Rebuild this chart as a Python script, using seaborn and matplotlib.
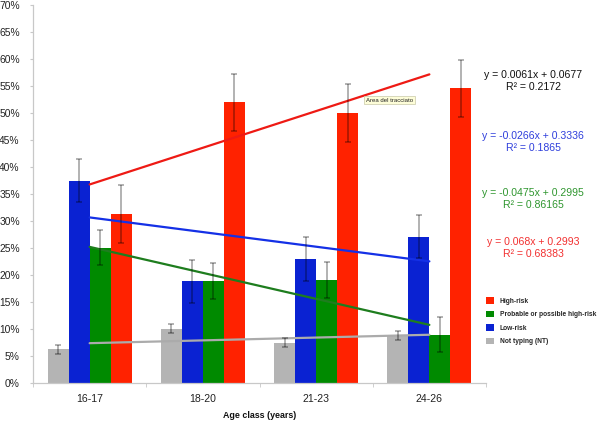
import matplotlib
matplotlib.use("Agg")
import matplotlib.pyplot as plt
from matplotlib.patches import Patch
from matplotlib.ticker import MultipleLocator, PercentFormatter
import numpy as np
import pandas as pd
import seaborn as sns

# --------------------------------------------------------------------------
# Data (percent)
# --------------------------------------------------------------------------
age_classes = ["16-17", "18-20", "21-23", "24-26"]
groups = ["Not typing (NT)", "Low-risk", "Probable or possible high-risk", "High-risk"]

not_typing = [6.3, 10.1, 7.5, 8.9]
low_risk = [37.5, 18.9, 23.0, 27.1]
probable_high = [25.1, 18.9, 19.1, 9.0]
high_risk = [31.3, 52.0, 50.0, 54.6]

not_typing_err = [0.85, 0.85, 0.85, 0.85]
low_risk_err = [4.0, 4.0, 4.0, 4.0]
probable_high_err = [3.3, 3.35, 3.35, 3.3]
high_risk_err = [5.4, 5.25, 5.3, 5.3]

# trend line equations as printed on the chart
equations = [
    "y = 0.0061x + 0.0677\nR\u00b2 = 0.2172",
    "y = -0.0266x + 0.3336\nR\u00b2 = 0.1865",
    "y = -0.0475x + 0.2995\nR\u00b2 = 0.86165",
    "y = 0.068x + 0.2993\nR\u00b2 = 0.68383",
]

bar_colors = ["#b4b4b4", "#0a22d2", "#008a00", "#ff2200"]
line_colors = ["#ababab", "#1430e6", "#1e7d1e", "#ee1a14"]
eq_colors = ["#111111", "#2f3fdc", "#2f962f", "#f23030"]

values = [not_typing, low_risk, probable_high, high_risk]
errors = [not_typing_err, low_risk_err, probable_high_err, high_risk_err]

df = pd.DataFrame({
    "age": age_classes * len(groups),
    "group": np.repeat(groups, len(age_classes)),
    "value": np.concatenate(values),
})

# --------------------------------------------------------------------------
# Plot
# --------------------------------------------------------------------------
sns.set_style("white")
plt.rcParams["font.family"] = ["Liberation Sans", "DejaVu Sans"]

fig = plt.figure(figsize=(6, 4.23), dpi=100)
ax = fig.add_axes([0.055, 0.0939, 0.755, 0.8943])

sns.barplot(
    data=df, x="age", y="value", hue="group",
    order=age_classes, hue_order=groups,
    palette=bar_colors, width=0.74, linewidth=0,
    saturation=1, errorbar=None, legend=False, ax=ax,
)

# error bars on each patch
for i, errs in enumerate(errors):
    for j, err in enumerate(errs):
        p = ax.patches[i * len(age_classes) + j]
        ax.errorbar(
            p.get_x() + p.get_width() / 2, p.get_height(), yerr=err,
            fmt="none", ecolor=(0, 0, 0, 0.38), elinewidth=1.1,
            capsize=2.2, capthick=1.1, zorder=4,
        )

# linear trend lines across the age classes
xpos = np.arange(len(age_classes))
for vals, col in zip(values, line_colors):
    sns.regplot(
        x=xpos, y=np.array(vals), ci=None, scatter=False, truncate=True,
        line_kws={"color": col, "lw": 1.6, "zorder": 3}, ax=ax,
    )

ax.set_xlim(-0.5, 3.5)
ax.set_ylim(0, 70)
ax.yaxis.set_major_locator(MultipleLocator(5))
ax.yaxis.set_major_formatter(PercentFormatter(decimals=0))
ax.set_xticks(xpos)
ax.set_xticklabels(age_classes)
ax.set_xticks([-0.5, 0.5, 1.5, 2.5, 3.5], minor=True)
ax.tick_params(axis="x", which="major", length=0, pad=8, labelsize=7.6, colors="#222222")
ax.tick_params(axis="x", which="minor", length=3, color="#c8c8c8", direction="out", bottom=True)
ax.tick_params(axis="y", length=2.5, color="#c8c8c8", direction="out", left=True,
               pad=7, labelsize=7.4, labelcolor="#222222")

ax.set_ylabel("")
ax.set_xlabel("Age class (years)", fontsize=6.4, fontweight="bold", labelpad=5, color="#111111")

sns.despine(ax=ax, top=True, right=True)
for side in ["left", "bottom"]:
    ax.spines[side].set_color("#c8c8c8")
    ax.spines[side].set_linewidth(0.9)

# trend line equations at the right
eq_y = [81, 142, 199, 248]
for text, col, yy in zip(equations, eq_colors, eq_y):
    fig.text(533 / 600, 1 - yy / 423, text, color=col, fontsize=7.6,
             ha="center", va="center", linespacing=1.15, multialignment="center")

# legend (reversed order)
handles = [Patch(facecolor=c, edgecolor="none") for c in bar_colors[::-1]]
fig.legend(
    handles, groups[::-1], loc="upper left",
    bbox_to_anchor=(486 / 600, 1 - 297 / 423), bbox_transform=fig.transFigure,
    frameon=False, prop={"size": 4.75, "weight": "bold"},
    handlelength=1.2, handleheight=1.2, handletextpad=0.9,
    labelspacing=0.9, borderpad=0, borderaxespad=0,
)

# tooltip left over from the original screenshot
fig.text(389.5 / 600, 1 - 100 / 423, "Area del tracciato", fontsize=4.3,
         ha="center", va="center", color="#222222",
         bbox=dict(boxstyle="square,pad=0.3", facecolor="#fdfdd8",
                   edgecolor="#c9c9a8", linewidth=0.5))

fig.savefig("out.png", dpi=100)
plt.close(fig)
